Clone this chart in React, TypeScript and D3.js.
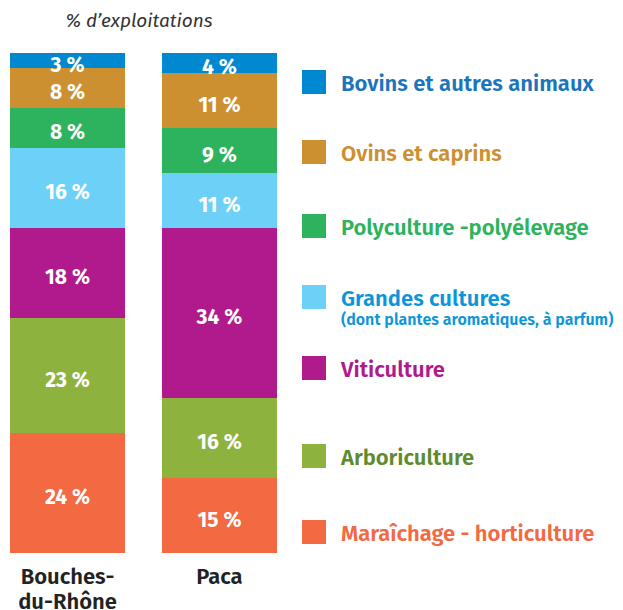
import { useEffect, useRef } from "react"
import * as d3 from "d3"

const regions = ["Bouches-du-Rhône", "Paca"]
const regionLines = [["Bouches-", "du-Rhône"], ["Paca"]]
// bottom to top
const categories = [
  "Maraîchage - horticulture",
  "Arboriculture",
  "Viticulture",
  "Grandes cultures",
  "Polyculture -polyélevage",
  "Ovins et caprins",
  "Bovins et autres animaux",
]
const bouchesValues = [24, 23, 18, 16, 8, 8, 3]
const pacaValues = [15, 16, 34, 11, 9, 11, 4]
const fillColors = ["#f26942", "#8db33e", "#b01a8c", "#6dd0f7", "#2db35d", "#cc9030", "#0088d0"]
const textColors = ["#f26942", "#5f8a2d", "#b01a8c", "#0a96d8", "#2db35d", "#cc9030", "#1a75bb"]
const legendOrder = [6, 5, 4, 3, 2, 1, 0]
const legendSub = { 3: "(dont plantes aromatiques, à parfum)" } as Record<number, string>
const legendY = [70, 140, 214, 285, 356, 444, 520]

export default function App() {
  const svgRef = useRef<SVGSVGElement>(null)

  useEffect(() => {
    if (!svgRef.current) return
    const svg = d3.select(svgRef.current)
    svg.selectAll("*").remove()

    const font = "'Fira Sans', 'Noto Sans', sans-serif"

    const x = d3.scaleBand().domain(regions).range([10, 277]).paddingInner(0.243)
    const y = d3.scaleLinear().domain([0, 100]).range([553, 53])

    const series = [bouchesValues, pacaValues]

    regions.forEach((r, ri) => {
      const vals = series[ri]
      const g = svg.append("g")
      let acc = 0
      vals.forEach((v, ci) => {
        const y0 = acc
        acc += v
        g.append("rect")
          .attr("x", x(r) || 0)
          .attr("y", y(acc))
          .attr("width", x.bandwidth())
          .attr("height", y(y0) - y(acc))
          .attr("fill", fillColors[ci])
        g.append("text")
          .attr("x", (x(r) || 0) + x.bandwidth() / 2)
          .attr("y", (y(acc) + y(y0)) / 2 + 11)
          .attr("text-anchor", "middle")
          .attr("fill", "#fff")
          .attr("font-family", font)
          .attr("font-weight", 700)
          .attr("font-size", 21)
          .text(`${v} %`)
      })
      regionLines[ri].forEach((line, li) => {
        svg.append("text")
          .attr("x", (x(r) || 0) + x.bandwidth() / 2)
          .attr("y", 584 + li * 25)
          .attr("text-anchor", "middle")
          .attr("fill", "#222")
          .attr("font-family", font)
          .attr("font-weight", 600)
          .attr("font-size", 22)
          .text(line)
      })
    })

    svg.append("text")
      .attr("x", 139)
      .attr("y", 27)
      .attr("text-anchor", "middle")
      .attr("fill", "#333")
      .attr("font-family", font)
      .attr("font-style", "italic")
      .attr("font-size", 19)
      .text("% d’exploitations")

    legendOrder.forEach((ci, i) => {
      const ly = legendY[i]
      svg.append("rect")
        .attr("x", 302)
        .attr("y", ly)
        .attr("width", 24)
        .attr("height", 24)
        .attr("fill", fillColors[ci])
      svg.append("text")
        .attr("x", 341)
        .attr("y", ly + 21)
        .attr("fill", textColors[ci])
        .attr("font-family", font)
        .attr("font-weight", 600)
        .attr("font-size", 22)
        .text(categories[ci])
      if (legendSub[ci]) {
        svg.append("text")
          .attr("x", 341)
          .attr("y", ly + 40)
          .attr("fill", textColors[ci])
          .attr("font-family", font)
          .attr("font-weight", 600)
          .attr("font-size", 16)
          .text(legendSub[ci])
      }
    })
  }, [])

  return (
    <div style={{ position: "absolute", left: 0, top: 0 }}>
      <svg ref={svgRef} width={623} height={610} />
    </div>
  )
}
